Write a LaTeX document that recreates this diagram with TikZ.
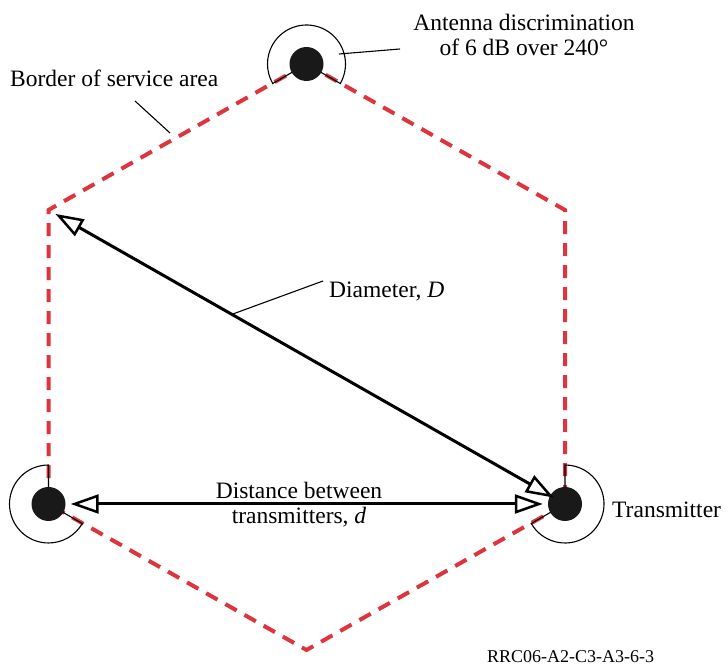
\documentclass[tikz,border=0pt]{standalone}
\usepackage{fontspec}
\setmainfont{Liberation Serif}
\usetikzlibrary{arrows.meta,calc}
\definecolor{dashred}{RGB}{221,52,62}
\begin{document}
\begin{tikzpicture}[x=1pt,y=1pt,
  border/.style={draw=dashred, line width=4pt, dash pattern=on 13pt off 9pt},
  antdot/.style={circle, fill=black!90, minimum size=34pt, inner sep=0pt},
  antarc/.style={draw=black, line width=1.1pt},
  opentip/.tip={Triangle[open,length=28pt,width=19pt,line width=2.5pt]},
  dim/.style={draw=black, line width=3pt, opentip-opentip},
  leader/.style={draw=black, line width=1.1pt},
  lbl/.style={inner sep=0pt, font=\fontsize{23.5}{25}\selectfont},
  ]
\useasboundingbox (0,0) rectangle (728,666);
% vertices of the service area
\coordinate (T) at (306.5,602);
\coordinate (UR) at (565,456);
\coordinate (LR) at (565,162);
\coordinate (B) at (306.5,16);
\coordinate (LL) at (48.5,162);
\coordinate (UL) at (48.5,456);
% border
\draw[border] (T) -- (UR) -- (LR) -- (B) -- (LL) -- (UL) -- cycle;
% antenna patterns
\draw[antarc] (T) -- ++(-30:39) arc[start angle=-30,end angle=210,radius=39] -- (T);
\draw[antarc] (LL) -- ++(90:39) arc[start angle=90,end angle=330,radius=39] -- (LL);
\draw[antarc] (LR) -- ++(-150:39) arc[start angle=-150,end angle=90,radius=39] -- (LR);
% transmitters
\node[antdot] (tdot) at (T) {};
\node[antdot] (ldot) at (LL) {};
\node[antdot] (rdot) at (LR) {};
% dimensions
\draw[dim, shorten <=8pt, shorten >=13pt] (UL) -- (LR);
\draw[dim, shorten <=5pt, shorten >=5pt] (ldot) -- (rdot);
% labels
\node[lbl, align=center] (ant) at (524,631) {Antenna discrimination\\of 6 dB over 240°};
\node[lbl, anchor=west] (bor) at (10,588) {Border of service area};
\node[lbl, anchor=west] (dia) at (329,374) {Diameter, \textit{D}};
\node[lbl, align=center] (dist) at (299,161) {Distance between\\transmitters, \textit{d}};
\node[lbl, anchor=west] (tx) at (612,156) {Transmitter};
\node[inner sep=0pt, font=\fontsize{18}{20}\selectfont, anchor=west] (ref) at (487,9) {RRC06-A2-C3-A3-6-3};
% leaders
\coordinate (antA) at (339,612);
\coordinate (antB) at (400,617);
\draw[leader] (antA) -- (antB);
\coordinate (borA) at (135,565);
\coordinate (borB) at (170,533);
\draw[leader] (borA) -- (borB);
\coordinate (diaA) at ($(UL)!0.355!(LR)$);
\coordinate (diaB) at (323,385);
\draw[leader] (diaA) -- (diaB);
\end{tikzpicture}
\end{document}
